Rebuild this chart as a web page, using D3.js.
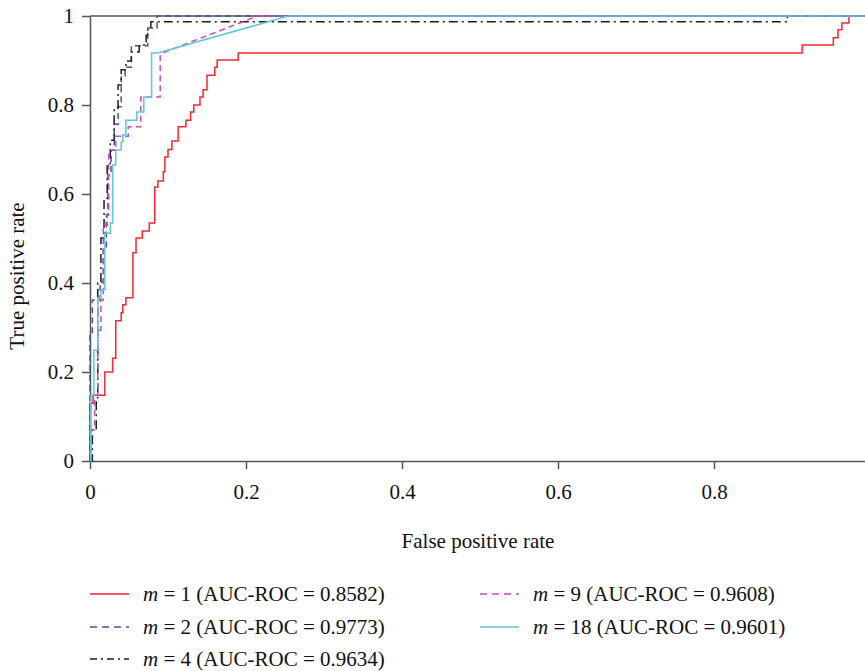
<!DOCTYPE html>
<html>
<head>
<meta charset="utf-8">
<script src="https://cdn.jsdelivr.net/npm/d3@7"></script>
<style>
  body { margin: 0; background: #fff; }
  svg { display: block; font-family: "Liberation Serif", "DejaVu Serif", serif; }
</style>
</head>
<body>
<svg width="865" height="671"></svg>
<script>
// ROC corner points [false positive rate, true positive rate]
var rocM1 = [[0,0],[0,0.13],[0.004,0.13],[0.004,0.148],[0.019,0.148],[0.019,0.2],[0.029,0.2],[0.029,0.231],
  [0.033,0.231],[0.033,0.315],[0.040,0.315],[0.040,0.333],[0.042,0.333],[0.042,0.351],[0.046,0.351],[0.046,0.367],
  [0.055,0.367],[0.055,0.468],[0.059,0.468],[0.059,0.501],[0.067,0.501],[0.067,0.517],[0.076,0.517],[0.076,0.535],
  [0.083,0.535],[0.083,0.616],[0.087,0.616],[0.087,0.629],[0.094,0.629],[0.094,0.65],[0.096,0.65],[0.096,0.683],
  [0.1,0.683],[0.1,0.7],[0.105,0.7],[0.105,0.719],[0.113,0.719],[0.113,0.751],[0.123,0.751],[0.123,0.766],
  [0.129,0.766],[0.129,0.784],[0.133,0.784],[0.133,0.8],[0.141,0.8],[0.141,0.818],[0.145,0.818],[0.145,0.834],
  [0.15,0.834],[0.15,0.867],[0.16,0.867],[0.16,0.885],[0.163,0.885],[0.163,0.901],[0.19,0.901],[0.19,0.917],
  [0.913,0.917],[0.913,0.935],[0.953,0.935],[0.953,0.951],[0.959,0.951],[0.959,0.969],[0.964,0.969],[0.964,0.984],
  [0.973,0.984],[0.973,1],[1,1]];

var rocM2 = [[0,0],[0,0.281],[0.003,0.281],[0.003,0.362],[0.013,0.362],[0.013,0.402],[0.017,0.402],[0.017,0.474],
  [0.021,0.474],[0.021,0.553],[0.023,0.553],[0.023,0.643],[0.027,0.643],[0.027,0.699],[0.031,0.699],[0.031,0.757],
  [0.036,0.757],[0.036,0.796],[0.040,0.796],[0.040,0.865],[0.045,0.865],[0.045,0.885],[0.053,0.885],[0.053,0.933],
  [0.074,0.933],[0.074,0.973],[0.086,0.973],[0.086,1],[1,1]];

var rocM4 = [[0,0],[0.003,0],[0.003,0.070],[0.008,0.070],[0.008,0.142],[0.010,0.142],[0.010,0.4],[0.014,0.4],
  [0.014,0.501],[0.018,0.501],[0.018,0.587],[0.022,0.587],[0.022,0.665],[0.026,0.665],[0.026,0.721],[0.031,0.721],
  [0.031,0.793],[0.036,0.793],[0.036,0.845],[0.040,0.845],[0.040,0.879],[0.046,0.879],[0.046,0.899],[0.053,0.899],
  [0.053,0.919],[0.063,0.919],[0.063,0.935],[0.072,0.935],[0.072,0.957],[0.074,0.957],[0.074,0.973],[0.078,0.973],
  [0.078,0.987],[0.894,0.987],[0.894,1],[1,1]];

var rocM9 = [[0,0],[0.001,0],[0.001,0.070],[0.006,0.070],[0.006,0.148],[0.010,0.148],[0.010,0.294],[0.014,0.294],
  [0.014,0.362],[0.017,0.362],[0.017,0.530],[0.022,0.530],[0.022,0.553],[0.024,0.553],[0.024,0.699],[0.033,0.699],
  [0.033,0.730],[0.049,0.730],[0.049,0.751],[0.065,0.751],[0.065,0.818],[0.090,0.818],[0.090,0.912],[0.096,0.919],
  [0.215,1],[1,1]];

var rocM18 = [[0,0],[0.001,0],[0.001,0.148],[0.005,0.148],[0.005,0.249],[0.010,0.249],[0.010,0.366],[0.014,0.366],
  [0.014,0.384],[0.019,0.384],[0.019,0.512],[0.026,0.512],[0.026,0.535],[0.029,0.535],[0.029,0.665],[0.033,0.665],
  [0.033,0.699],[0.040,0.699],[0.040,0.717],[0.042,0.717],[0.042,0.733],[0.046,0.733],[0.046,0.766],[0.060,0.766],
  [0.060,0.784],[0.069,0.784],[0.069,0.818],[0.079,0.818],[0.079,0.917],[0.087,0.917],[0.254,1],[1,1]];

var mValues = ['1', '2', '4', '9', '18'];
var aucValues = ['0.8582', '0.9773', '0.9634', '0.9608', '0.9601'];
var xTicks = [0, 0.2, 0.4, 0.6, 0.8];
var yTicks = [0, 0.2, 0.4, 0.6, 0.8, 1];

var series = [rocM1, rocM2, rocM4, rocM9, rocM18];
var colors = ['#ef2a30', '#3d55a8', '#1e1e1e', '#cc4bb4', '#5cc6dc'];
var dashes = [null, '6,4', '9,4,2,4', '6,4', null];

var svg = d3.select('svg');

var scaleX = d3.scaleLinear().domain([0, 1]).range([90, 870]);
var scaleY = d3.scaleLinear().domain([0, 1]).range([461, 16]);

// top frame line
svg.append('line')
    .attr('x1', 90).attr('x2', 870)
    .attr('y1', scaleY(1)).attr('y2', scaleY(1))
    .attr('stroke', '#555').attr('stroke-width', 1.5);

var xAxis = svg.append('g')
    .attr('transform', 'translate(0,' + scaleY(0) + ')')
    .call(d3.axisBottom(scaleX).tickValues(xTicks).tickSize(8).tickSizeOuter(0).tickPadding(15)
        .tickFormat(function(d){ return String(d); }));

var yAxis = svg.append('g')
    .attr('transform', 'translate(' + scaleX(0) + ',0)')
    .call(d3.axisLeft(scaleY).tickValues(yTicks).tickSize(8).tickSizeOuter(0).tickPadding(8)
        .tickFormat(function(d){ return String(d); }));

[xAxis, yAxis].forEach(function(g){
    g.selectAll('path, line').attr('stroke', '#555').attr('stroke-width', 1.5);
    g.selectAll('text').attr('font-size', 21).attr('fill', '#111')
        .attr('font-family', '"Liberation Serif", serif');
});

var line = d3.line()
    .x(function(d){ return scaleX(d[0]); })
    .y(function(d){ return scaleY(d[1]); });

series.forEach(function(s, i){
    svg.append('path')
        .datum(s)
        .attr('d', line)
        .attr('fill', 'none')
        .attr('stroke', colors[i])
        .attr('stroke-width', 1.5)
        .attr('stroke-dasharray', dashes[i]);
});

svg.append('text')
    .attr('x', 478)
    .attr('y', 548)
    .attr('text-anchor', 'middle')
    .attr('font-size', 21)
    .attr('fill', '#111')
    .text('False positive rate');

svg.append('text')
    .attr('transform', 'translate(24,' + 276 + ') rotate(-90)')
    .attr('text-anchor', 'middle')
    .attr('font-size', 21)
    .attr('fill', '#111')
    .text('True positive rate');

// legend, two columns
var legendX = [90, 90, 90, 480, 480];
var legendY = [594, 627, 659, 594, 627];

mValues.forEach(function(m, i){
    var lg = svg.append('g').attr('transform', 'translate(' + legendX[i] + ',' + legendY[i] + ')');
    lg.append('line')
        .attr('x1', 0).attr('x2', 39)
        .attr('y1', 0).attr('y2', 0)
        .attr('stroke', colors[i])
        .attr('stroke-width', 1.5)
        .attr('stroke-dasharray', dashes[i] ? (i === 2 ? '7,4,2,4' : '7,5') : null);
    var t = lg.append('text')
        .attr('x', 53)
        .attr('y', 7)
        .attr('font-size', 21)
        .attr('fill', '#111');
    t.append('tspan').attr('font-style', 'italic').text('m');
    t.append('tspan').text(' = ' + m + ' (AUC-ROC = ' + aucValues[i] + ')');
});
</script>
</body>
</html>
